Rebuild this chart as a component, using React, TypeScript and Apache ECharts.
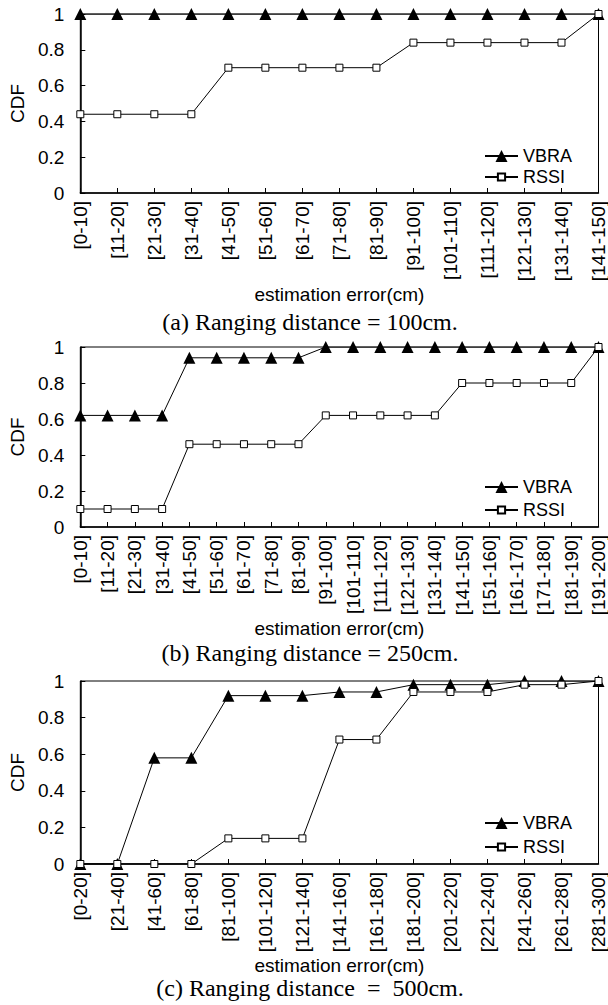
import React, { useEffect, useRef } from "react";
import * as echarts from "echarts";

const catsA = ["[0-10]", "[11-20]", "[21-30]", "[31-40]", "[41-50]", "[51-60]", "[61-70]", "[71-80]", "[81-90]", "[91-100]", "[101-110]", "[111-120]", "[121-130]", "[131-140]", "[141-150]"];
const vbraA = [1, 1, 1, 1, 1, 1, 1, 1, 1, 1, 1, 1, 1, 1, 1];
const rssiA = [0.44, 0.44, 0.44, 0.44, 0.7, 0.7, 0.7, 0.7, 0.7, 0.84, 0.84, 0.84, 0.84, 0.84, 1];

const catsB = ["[0-10]", "[11-20]", "[21-30]", "[31-40]", "[41-50]", "[51-60]", "[61-70]", "[71-80]", "[81-90]", "[91-100]", "[101-110]", "[111-120]", "[121-130]", "[131-140]", "[141-150]", "[151-160]", "[161-170]", "[171-180]", "[181-190]", "[191-200]"];
const vbraB = [0.62, 0.62, 0.62, 0.62, 0.94, 0.94, 0.94, 0.94, 0.94, 1, 1, 1, 1, 1, 1, 1, 1, 1, 1, 1];
const rssiB = [0.1, 0.1, 0.1, 0.1, 0.46, 0.46, 0.46, 0.46, 0.46, 0.62, 0.62, 0.62, 0.62, 0.62, 0.8, 0.8, 0.8, 0.8, 0.8, 1];

const catsC = ["[0-20]", "[21-40]", "[41-60]", "[61-80]", "[81-100]", "[101-120]", "[121-140]", "[141-160]", "[161-180]", "[181-200]", "[201-220]", "[221-240]", "[241-260]", "[261-280]", "[281-300]"];
const vbraC = [0, 0, 0.58, 0.58, 0.92, 0.92, 0.92, 0.94, 0.94, 0.98, 0.98, 0.98, 1, 1, 1];
const rssiC = [0, 0, 0, 0, 0.14, 0.14, 0.14, 0.68, 0.68, 0.94, 0.94, 0.94, 0.98, 0.98, 1];

const captions = ["(a) Ranging distance = 100cm.", "(b) Ranging distance = 250cm.", "(c) Ranging distance  =  500cm."];
const xName = "estimation error(cm)";
const yName = "CDF";

const SANS = "'Liberation Sans', Arial, sans-serif";
const SERIF = "'Liberation Serif', 'Times New Roman', serif";

export default function App() {
  const ref = useRef<HTMLDivElement>(null);
  useEffect(() => {
    if (!ref.current) return;
    const chart = echarts.init(ref.current, null, { renderer: "svg" });
    const panels = [
      { cats: catsA, vbra: vbraA, rssi: rssiA, grid: { left: 78, top: 14, width: 522, height: 179 }, legY: [156, 177] },
      { cats: catsB, vbra: vbraB, rssi: rssiB, grid: { left: 79, top: 347, width: 521, height: 180 }, legY: [487, 510] },
      { cats: catsC, vbra: vbraC, rssi: rssiC, grid: { left: 79, top: 681, width: 523, height: 183 }, legY: [823, 847] },
    ];
    const captionY = [322, 653, 988];
    const grids: any[] = [];
    const xAxes: any[] = [];
    const yAxes: any[] = [];
    const series: any[] = [];
    const legends: any[] = [];
    panels.forEach((p, i) => {
      grids.push({ ...p.grid, show: true, borderColor: "#000", borderWidth: 1, containLabel: false });
      xAxes.push({
        type: "category",
        gridIndex: i,
        data: p.cats,
        boundaryGap: false,
        axisLine: { lineStyle: { color: "#000", width: 1.5 } },
        axisTick: { inside: true, length: 5, lineStyle: { color: "#000" } },
        axisLabel: { rotate: 90, interval: 0, margin: 8, fontSize: 19, color: "#000", fontFamily: SANS },
        splitLine: { show: false },
        name: xName,
        nameLocation: "middle",
        nameGap: 87,
        nameTextStyle: { fontSize: 19, color: "#000", fontFamily: SANS },
      });
      yAxes.push({
        type: "value",
        gridIndex: i,
        min: 0,
        max: 1,
        interval: 0.2,
        axisLine: { show: true, lineStyle: { color: "#000", width: 1.5 } },
        axisTick: { show: true, inside: true, length: 5, lineStyle: { color: "#000" } },
        axisLabel: {
          margin: 16,
          fontSize: 19,
          color: "#000",
          fontFamily: SANS,
          formatter: (v: number) => String(+v.toFixed(1)),
        },
        splitLine: { show: false },
        name: yName,
        nameLocation: "middle",
        nameRotate: 90,
        nameGap: 51,
        nameTextStyle: { fontSize: 19, color: "#000", fontFamily: SANS },
      });
      series.push({
        name: "VBRA",
        type: "line",
        xAxisIndex: i,
        yAxisIndex: i,
        data: p.vbra,
        symbol: "triangle",
        symbolSize: 12,
        showAllSymbol: true,
        lineStyle: { color: "#000", width: 1 },
        itemStyle: { color: "#000" },
      });
      series.push({
        name: "RSSI",
        type: "line",
        xAxisIndex: i,
        yAxisIndex: i,
        data: p.rssi,
        symbol: "rect",
        symbolSize: 7,
        showAllSymbol: true,
        lineStyle: { color: "#000", width: 1 },
        itemStyle: { color: "#fff", borderColor: "#000", borderWidth: 1 },
      });
      const legendBase = {
        orient: "vertical",
        left: 484,
        itemWidth: 33,
        padding: 0,
        selectedMode: false,
        textStyle: { fontSize: 18, color: "#000", fontFamily: SANS },
      };
      legends.push({ ...legendBase, data: ["VBRA"], itemHeight: 15, top: p.legY[0] - 9 });
      legends.push({ ...legendBase, data: ["RSSI"], itemHeight: 9, top: p.legY[1] - 9 });
    });
    chart.setOption({
      animation: false,
      backgroundColor: "#fff",
      grid: grids,
      xAxis: xAxes,
      yAxis: yAxes,
      series,
      legend: legends,
      graphic: captions.map((c, i) => ({
        type: "text",
        x: 310,
        y: captionY[i],
        style: {
          text: c,
          fontSize: 24,
          fontFamily: SERIF,
          fill: "#000",
          textAlign: "center",
          textVerticalAlign: "middle",
        },
      })),
    });
    return () => chart.dispose();
  }, []);
  return <div ref={ref} style={{ position: "absolute", left: 0, top: 0, width: 608, height: 1005 }} />;
}
